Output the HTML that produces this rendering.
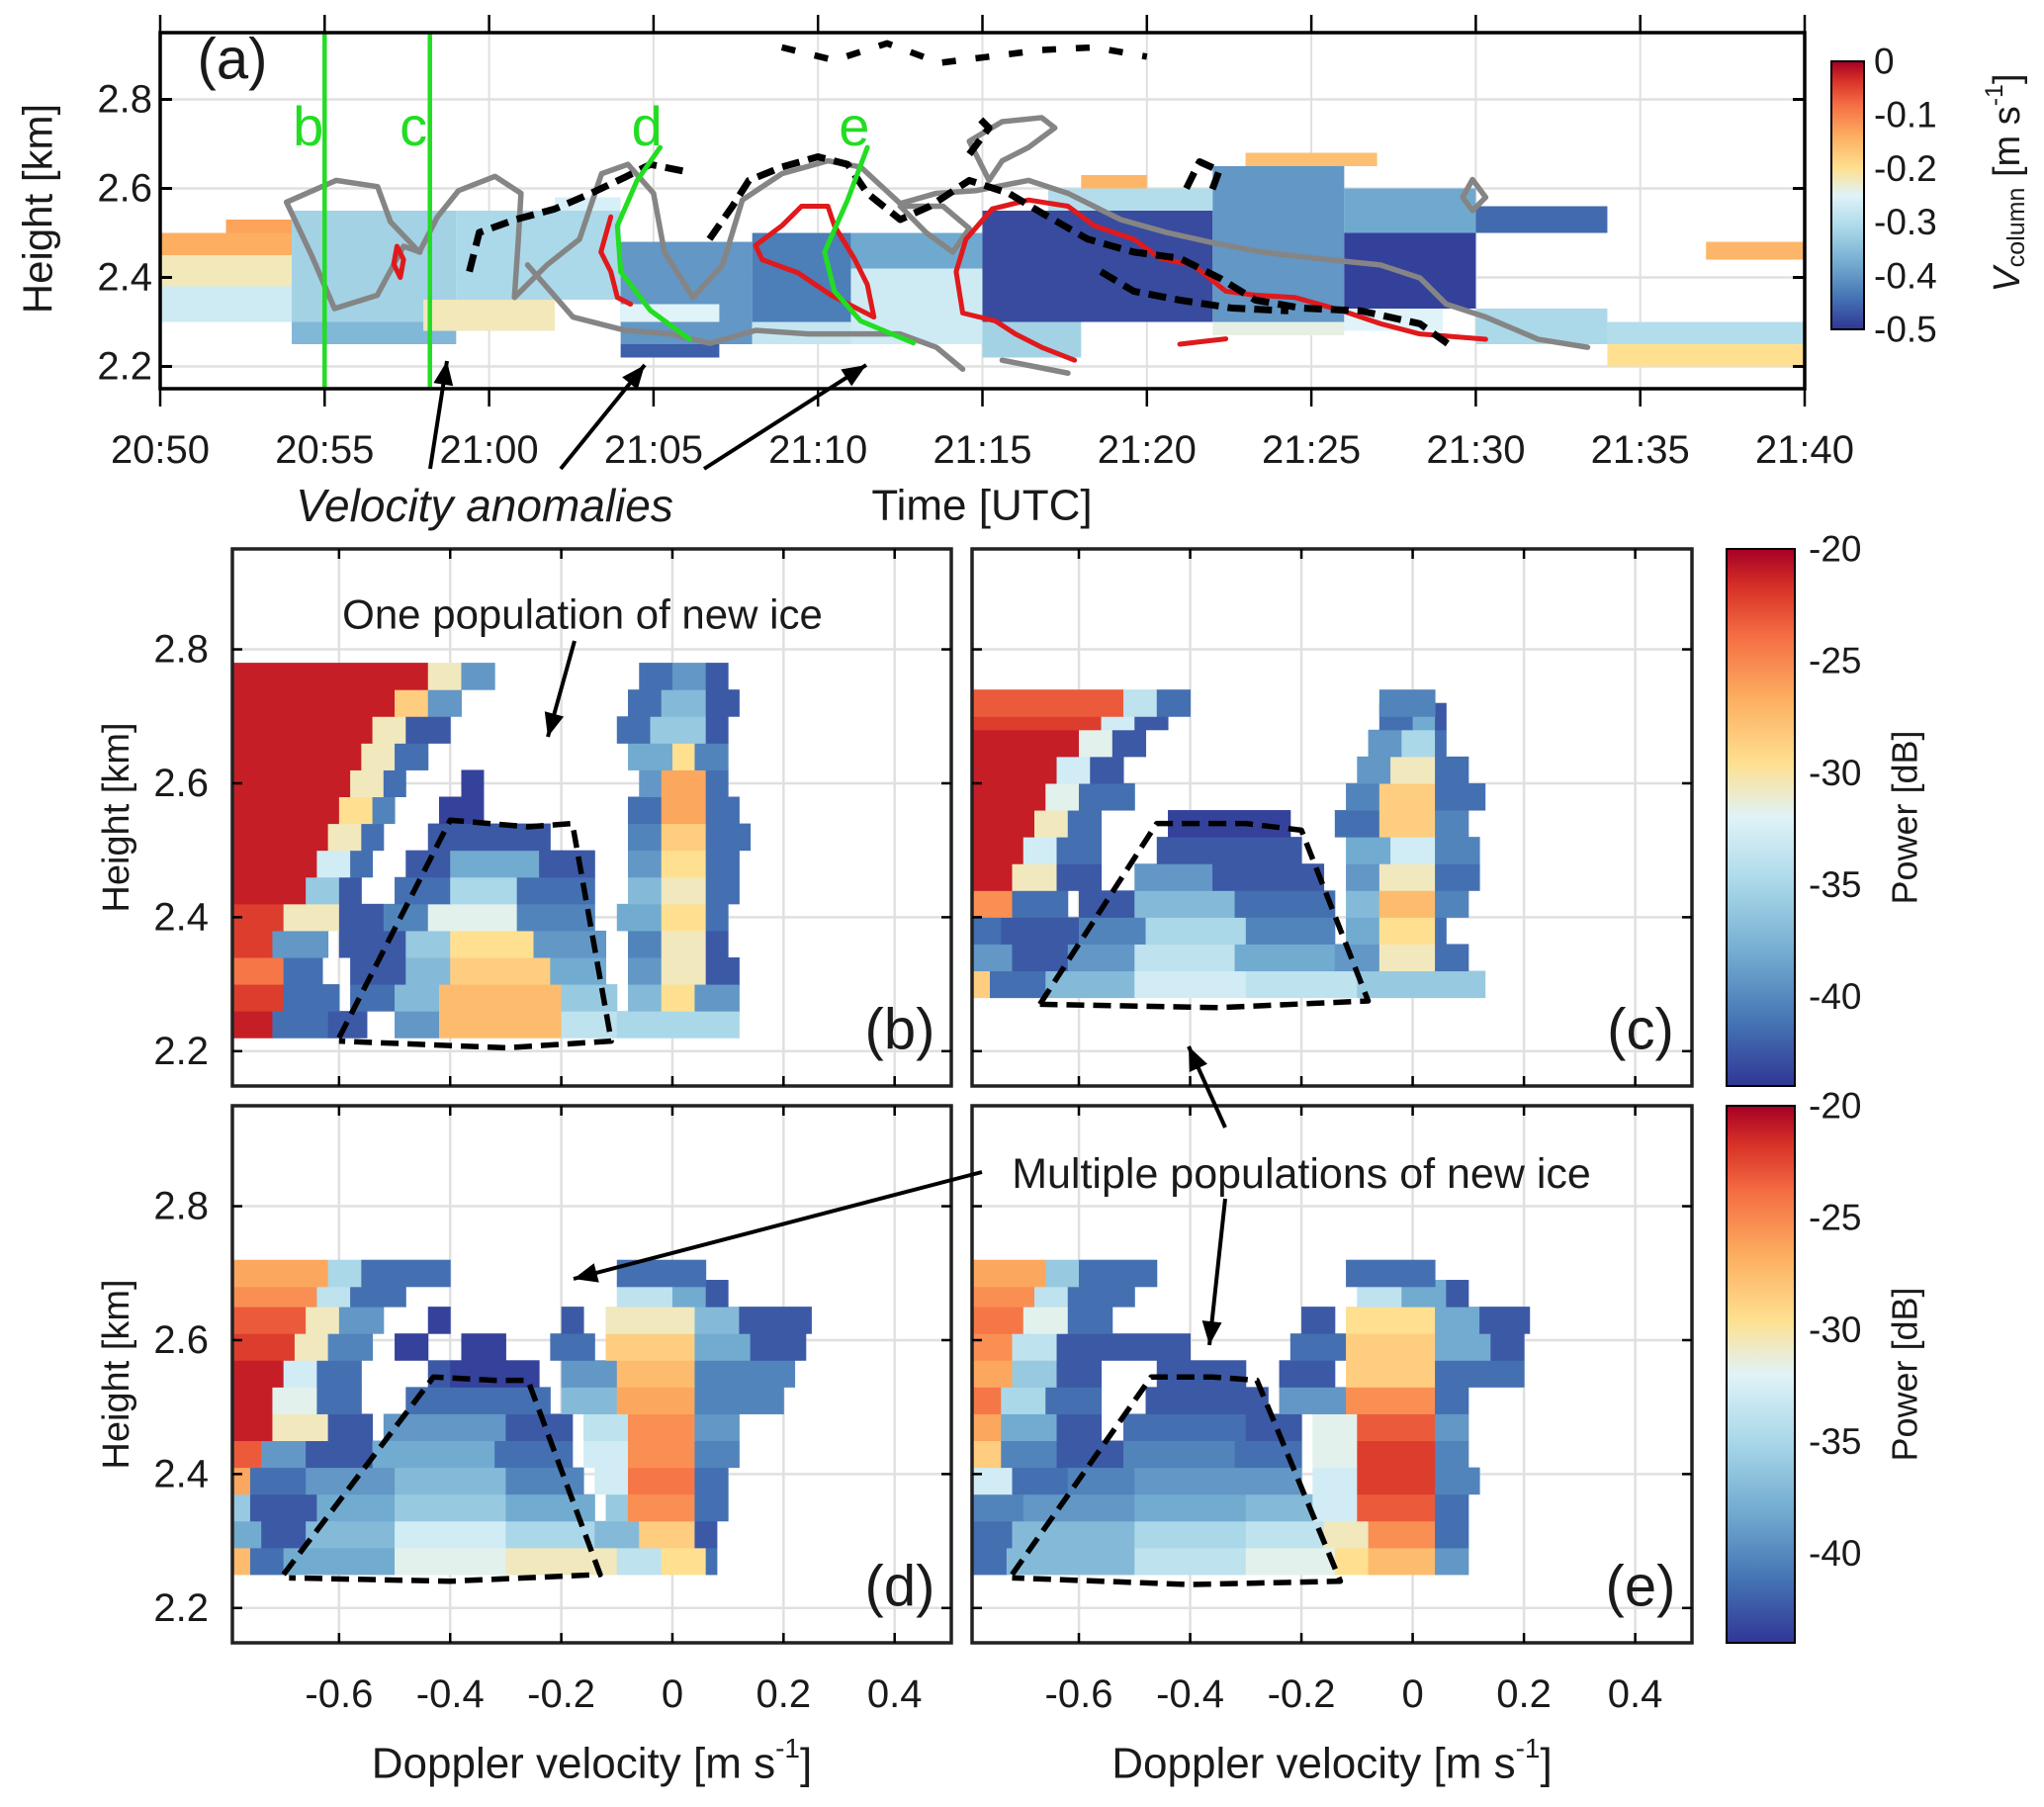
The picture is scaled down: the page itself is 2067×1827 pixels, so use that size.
<!DOCTYPE html>
<html><head><meta charset="utf-8"><style>
html,body{margin:0;padding:0;background:#fff}
svg{display:block;font-family:"Liberation Sans",sans-serif}
</style></head><body>
<svg id="fig" width="2067" height="1827" viewBox="0 0 2067 1827" xmlns="http://www.w3.org/2000/svg">
<defs>
<linearGradient id="cmapV" x1="0" y1="1" x2="0" y2="0">
<stop offset="0" stop-color="#313695"/><stop offset="0.12" stop-color="#4575b4"/><stop offset="0.25" stop-color="#74add1"/><stop offset="0.38" stop-color="#abd9e9"/><stop offset="0.5" stop-color="#e0f3f8"/><stop offset="0.6" stop-color="#fee090"/><stop offset="0.72" stop-color="#fdae61"/><stop offset="0.84" stop-color="#f46d43"/><stop offset="0.93" stop-color="#d73027"/><stop offset="1" stop-color="#a50026"/>
</linearGradient>
</defs>
<g id="root"></g>
</svg>
<script>
// ---------- Panel (a) data ----------
const aTicksX = ["20:50","20:55","21:00","21:05","21:10","21:15","21:20","21:25","21:30","21:35","21:40"];
const aTicksY = [2.2,2.4,2.6,2.8];
const vcTicks = [0,-0.1,-0.2,-0.3,-0.4,-0.5];
// [t0,t1 (min after 20:50), h0,h1 (km), Vcolumn m/s]
const aBlocks = [
[0,4,2.45,2.5,-0.14],[0,4,2.38,2.45,-0.22],[0,4,2.3,2.38,-0.27],[2,4,2.5,2.53,-0.13],
[4,9,2.3,2.55,-0.32],[4,9,2.25,2.3,-0.36],[8,12,2.28,2.35,-0.22],[9,14,2.35,2.55,-0.31],[12,14,2.55,2.58,-0.26],
[14,18,2.25,2.48,-0.40],[14,17,2.22,2.25,-0.46],[14,17,2.3,2.34,-0.25],
[18,21,2.3,2.5,-0.43],[18,21,2.25,2.3,-0.28],[21,25,2.25,2.42,-0.27],[21,25,2.42,2.5,-0.38],
[25,32,2.3,2.55,-0.48],[25,28,2.22,2.3,-0.32],[27,32,2.55,2.6,-0.3],[28,30,2.6,2.63,-0.15],
[32,36,2.3,2.65,-0.4],[33,37,2.65,2.68,-0.16],[32,36,2.27,2.3,-0.24],
[36,40,2.33,2.5,-0.49],[36,40,2.5,2.6,-0.38],[36,39,2.28,2.33,-0.25],
[40,44,2.25,2.33,-0.31],[40,44,2.5,2.56,-0.45],
[44,50,2.25,2.3,-0.3],[44,50,2.2,2.25,-0.2],[47,50,2.44,2.48,-0.15]];
const grayMain = [[3.84,2.569],[5.35,2.618],[6.61,2.604],[7.0,2.525],[7.88,2.457],[8.43,2.536],[9.07,2.595],[10.18,2.627],[10.97,2.589],[10.89,2.486],[10.77,2.355],[11.76,2.428],[12.75,2.486],[13.42,2.633],[14.22,2.654],[15.0,2.589],[15.33,2.457],[16.2,2.355],[17.1,2.428],[17.7,2.574],[18.9,2.633],[20.3,2.662],[21.3,2.648],[22.5,2.566],[23.6,2.589],[24.8,2.595],[26.4,2.618],[27.6,2.589],[29.2,2.53],[30.6,2.501],[32.0,2.478],[33.5,2.457],[35.1,2.443],[37.1,2.428],[38.3,2.399],[39.1,2.34],[40.3,2.311],[41.9,2.261],[43.4,2.243]];
const grayLeft = [[3.84,2.569],[4.6,2.45],[5.3,2.33],[6.6,2.36],[7.4,2.47],[7.9,2.457]];
const grayLow = [[11.17,2.428],[12.55,2.311],[14.14,2.281],[15.52,2.273],[16.71,2.252],[18.1,2.281],[19.7,2.273],[20.9,2.273],[22.5,2.273],[23.6,2.243],[24.4,2.194]];
const grayLow2 = [[25.6,2.214],[27.6,2.185]];
const grayLoopTop = [[24.6,2.706],[25.6,2.75],[26.8,2.759],[27.2,2.736],[26.4,2.692],[25.6,2.662],[25.2,2.618],[24.6,2.706]];
const grayLoopMid = [[22.5,2.56],[23.3,2.5],[24.1,2.457],[24.6,2.51],[23.8,2.56],[22.5,2.56]];
const grayRight = [[39.6,2.58],[39.9,2.62],[40.3,2.58],[39.9,2.55],[39.6,2.58]];
const redA = [[7.2,2.47],[7.4,2.44],[7.3,2.40],[7.1,2.43],[7.2,2.47]];
const redB = [[13.7,2.536],[13.4,2.457],[13.7,2.413],[13.9,2.355],[14.3,2.34]];
const redC = [[18.1,2.472],[18.9,2.516],[19.5,2.56],[20.3,2.56],[20.5,2.516],[21.1,2.443],[21.5,2.384],[21.7,2.311],[21.3,2.326],[20.4,2.36],[19.4,2.41],[18.3,2.44],[18.1,2.472]];
const redD = [[27.8,2.214],[26.8,2.243],[26.0,2.273],[25.4,2.302],[24.4,2.32],[24.2,2.413],[24.5,2.486],[25.3,2.554],[26.4,2.574],[27.6,2.56],[28.4,2.516],[29.6,2.486],[30.4,2.443],[31.4,2.428],[32.4,2.369],[33.3,2.36],[34.5,2.355],[35.9,2.326],[37.1,2.296],[38.3,2.273],[40.3,2.261]];
const redE = [[31.0,2.25],[31.8,2.257],[32.4,2.262]];
const blackA = [[9.4,2.413],[9.7,2.501],[10.8,2.53],[12.0,2.554],[13.1,2.589],[14.1,2.624],[14.9,2.654],[15.9,2.639]];
const blackB = [[16.7,2.486],[17.4,2.56],[17.9,2.618],[18.9,2.648],[20.0,2.671],[20.9,2.654],[21.5,2.589],[22.5,2.53],[23.4,2.56],[24.6,2.618],[25.8,2.589],[26.8,2.545],[28.2,2.486],[29.6,2.457],[31.0,2.443],[32.2,2.399],[33.3,2.349],[34.7,2.331],[36.5,2.325],[38.3,2.296],[39.3,2.243]];
const blackC = [[28.6,2.413],[29.6,2.369],[31.0,2.349],[32.6,2.331],[34.3,2.325]];
const blackTop = [[18.9,2.917],[20.5,2.888],[22.1,2.926],[23.7,2.882],[25.2,2.896],[26.8,2.911],[28.4,2.917],[30.0,2.896]];
const blackLoop = [[24.6,2.677],[25.2,2.736],[24.8,2.765]];
const blackLoop2 = [[31.2,2.6],[31.6,2.66],[32.2,2.64],[31.9,2.58]];
const greenD = [[15.2,2.692],[14.5,2.618],[13.9,2.516],[14.0,2.413],[14.9,2.326],[16.1,2.261]];
const greenE = [[21.5,2.692],[20.9,2.574],[20.2,2.457],[20.5,2.369],[21.3,2.302],[22.9,2.253]];
const greenVert = [5.0, 8.2];
const greenLabels = [["b",4.5],["c",7.7],["d",14.8],["e",21.1]];

// ---------- Spectrum panels data: rows [h0, [[v0,v1,dB],...]] row height 0.04 ----------
const velTicks = [-0.6,-0.4,-0.2,0,0.2,0.4];
const hTicks = [2.2,2.4,2.6,2.8];
const dbTicks = [-20,-25,-30,-35,-40];
const specB = [
[2.22,[[-0.79,-0.72,-21],[-0.72,-0.62,-40],[-0.62,-0.55,-41],[-0.5,-0.42,-38],[-0.42,-0.2,-27],[-0.2,-0.1,-33],[-0.1,0.12,-34]]],
[2.26,[[-0.79,-0.7,-22],[-0.7,-0.6,-40],[-0.58,-0.5,-40],[-0.5,-0.42,-36],[-0.42,-0.2,-27],[-0.2,-0.1,-35],[-0.08,-0.02,-36],[-0.02,0.04,-29],[0.04,0.12,-38]]],
[2.30,[[-0.79,-0.7,-24],[-0.7,-0.63,-40],[-0.58,-0.48,-41],[-0.48,-0.4,-36],[-0.4,-0.22,-28],[-0.22,-0.12,-37],[-0.08,-0.02,-38],[-0.02,0.06,-30],[0.06,0.12,-41]]],
[2.34,[[-0.79,-0.72,-22],[-0.72,-0.62,-38],[-0.6,-0.48,-41],[-0.48,-0.4,-35],[-0.4,-0.25,-29],[-0.25,-0.12,-38],[-0.08,-0.02,-39],[-0.02,0.06,-30],[0.06,0.1,-41]]],
[2.38,[[-0.79,-0.7,-22],[-0.7,-0.6,-30],[-0.6,-0.52,-41],[-0.52,-0.44,-39],[-0.44,-0.28,-31],[-0.28,-0.14,-39],[-0.1,-0.02,-37],[-0.02,0.06,-29],[0.06,0.1,-40]]],
[2.42,[[-0.79,-0.66,-21],[-0.66,-0.6,-35],[-0.6,-0.56,-41],[-0.5,-0.4,-40],[-0.4,-0.28,-34],[-0.28,-0.14,-40],[-0.08,-0.02,-36],[-0.02,0.06,-30],[0.06,0.12,-40]]],
[2.46,[[-0.79,-0.64,-21],[-0.64,-0.58,-32],[-0.58,-0.54,-40],[-0.48,-0.4,-41],[-0.4,-0.24,-37],[-0.24,-0.14,-41],[-0.08,-0.02,-38],[-0.02,0.06,-29],[0.06,0.12,-40]]],
[2.50,[[-0.79,-0.62,-21],[-0.62,-0.56,-30],[-0.56,-0.52,-40],[-0.44,-0.22,-41],[-0.08,-0.02,-39],[-0.02,0.06,-28],[0.06,0.14,-40]]],
[2.54,[[-0.79,-0.6,-21],[-0.6,-0.54,-29],[-0.54,-0.5,-39],[-0.42,-0.34,-42],[-0.08,-0.02,-40],[-0.02,0.06,-26],[0.06,0.12,-40]]],
[2.58,[[-0.79,-0.58,-21],[-0.58,-0.52,-30],[-0.52,-0.48,-40],[-0.38,-0.34,-42],[-0.06,-0.02,-38],[-0.02,0.06,-26],[0.06,0.1,-40]]],
[2.62,[[-0.79,-0.56,-21],[-0.56,-0.5,-30],[-0.5,-0.44,-40],[-0.08,0.0,-37],[0.0,0.04,-29],[0.04,0.1,-39]]],
[2.66,[[-0.79,-0.54,-21],[-0.54,-0.48,-30],[-0.48,-0.4,-41],[-0.1,-0.04,-40],[-0.04,0.06,-35],[0.06,0.1,-41]]],
[2.70,[[-0.79,-0.5,-21],[-0.5,-0.44,-28],[-0.44,-0.38,-38],[-0.08,-0.02,-40],[-0.02,0.06,-36],[0.06,0.12,-41]]],
[2.74,[[-0.79,-0.44,-21],[-0.44,-0.38,-30],[-0.38,-0.32,-38],[-0.06,0.0,-40],[0.0,0.06,-38],[0.06,0.1,-41]]]];
const specC = [
[2.28,[[-0.79,-0.76,-28],[-0.76,-0.66,-40],[-0.66,-0.5,-36],[-0.5,-0.3,-32],[-0.3,-0.1,-33],[-0.1,0.13,-35]]],
[2.32,[[-0.79,-0.72,-38],[-0.72,-0.62,-41],[-0.62,-0.5,-38],[-0.5,-0.32,-33],[-0.32,-0.14,-37],[-0.14,-0.06,-38],[-0.06,0.04,-30],[0.04,0.1,-40]]],
[2.36,[[-0.79,-0.74,-40],[-0.74,-0.6,-41],[-0.6,-0.48,-39],[-0.48,-0.3,-34],[-0.3,-0.14,-39],[-0.12,-0.06,-37],[-0.06,0.04,-29],[0.04,0.06,-40]]],
[2.40,[[-0.79,-0.72,-25],[-0.72,-0.62,-40],[-0.6,-0.5,-41],[-0.5,-0.32,-36],[-0.32,-0.14,-40],[-0.12,-0.06,-36],[-0.06,0.04,-27],[0.04,0.1,-39]]],
[2.44,[[-0.79,-0.72,-21],[-0.72,-0.64,-30],[-0.64,-0.56,-41],[-0.5,-0.36,-38],[-0.36,-0.16,-41],[-0.12,-0.06,-38],[-0.06,0.04,-30],[0.04,0.12,-40]]],
[2.48,[[-0.79,-0.7,-21],[-0.7,-0.64,-32],[-0.64,-0.56,-40],[-0.46,-0.2,-41],[-0.12,-0.04,-37],[-0.04,0.04,-32],[0.04,0.12,-39]]],
[2.52,[[-0.79,-0.68,-21],[-0.68,-0.62,-30],[-0.62,-0.56,-40],[-0.44,-0.22,-42],[-0.14,-0.06,-40],[-0.06,0.04,-28],[0.04,0.1,-39]]],
[2.56,[[-0.79,-0.66,-21],[-0.66,-0.6,-31],[-0.6,-0.5,-40],[-0.12,-0.06,-39],[-0.06,0.04,-28],[0.04,0.13,-40]]],
[2.60,[[-0.79,-0.64,-21],[-0.64,-0.58,-32],[-0.58,-0.52,-41],[-0.1,-0.04,-38],[-0.04,0.04,-30],[0.04,0.1,-40]]],
[2.64,[[-0.79,-0.6,-21],[-0.6,-0.54,-31],[-0.54,-0.48,-41],[-0.08,-0.02,-38],[-0.02,0.04,-34],[0.04,0.06,-40]]],
[2.68,[[-0.79,-0.56,-22],[-0.56,-0.5,-32],[-0.5,-0.44,-41],[-0.06,0.0,-40],[0.0,0.04,-37],[0.04,0.06,-41]]],
[2.70,[[-0.79,-0.52,-23],[-0.52,-0.46,-33],[-0.46,-0.4,-40],[-0.06,0.04,-39]]]];
const specD = [
[2.25,[[-0.79,-0.76,-27],[-0.76,-0.7,-40],[-0.7,-0.5,-37],[-0.5,-0.3,-31],[-0.3,-0.1,-30],[-0.1,-0.02,-33],[-0.02,0.06,-29],[0.06,0.08,-40]]],
[2.29,[[-0.79,-0.74,-37],[-0.74,-0.66,-41],[-0.66,-0.5,-36],[-0.5,-0.3,-32],[-0.3,-0.14,-34],[-0.14,-0.06,-36],[-0.06,0.04,-28],[0.04,0.08,-41]]],
[2.33,[[-0.79,-0.76,-35],[-0.76,-0.64,-41],[-0.64,-0.5,-37],[-0.5,-0.3,-35],[-0.3,-0.14,-37],[-0.12,-0.08,-35],[-0.08,0.04,-25],[0.04,0.1,-40]]],
[2.37,[[-0.79,-0.76,-26],[-0.76,-0.66,-40],[-0.66,-0.5,-38],[-0.5,-0.3,-36],[-0.3,-0.16,-39],[-0.14,-0.08,-32],[-0.08,0.04,-24],[0.04,0.1,-40]]],
[2.41,[[-0.79,-0.74,-23],[-0.74,-0.66,-38],[-0.66,-0.54,-41],[-0.54,-0.32,-37],[-0.32,-0.18,-40],[-0.16,-0.08,-32],[-0.08,0.04,-25],[0.04,0.12,-39]]],
[2.45,[[-0.79,-0.72,-21],[-0.72,-0.62,-30],[-0.62,-0.54,-41],[-0.52,-0.3,-38],[-0.3,-0.18,-41],[-0.16,-0.08,-33],[-0.08,0.04,-25],[0.04,0.12,-38]]],
[2.49,[[-0.79,-0.72,-21],[-0.72,-0.64,-31],[-0.64,-0.56,-40],[-0.48,-0.22,-40],[-0.2,-0.1,-36],[-0.1,0.04,-26],[0.04,0.2,-39]]],
[2.53,[[-0.79,-0.7,-21],[-0.7,-0.64,-32],[-0.64,-0.56,-40],[-0.44,-0.4,-41],[-0.4,-0.24,-42],[-0.2,-0.1,-38],[-0.1,0.04,-27],[0.04,0.22,-39]]],
[2.57,[[-0.79,-0.68,-22],[-0.68,-0.62,-30],[-0.62,-0.54,-39],[-0.5,-0.44,-42],[-0.38,-0.3,-42],[-0.22,-0.14,-40],[-0.12,0.04,-28],[0.04,0.14,-37],[0.14,0.24,-41]]],
[2.61,[[-0.79,-0.66,-23],[-0.66,-0.6,-30],[-0.6,-0.52,-38],[-0.44,-0.4,-42],[-0.2,-0.16,-41],[-0.12,0.04,-30],[0.04,0.12,-36],[0.12,0.25,-41]]],
[2.65,[[-0.79,-0.64,-25],[-0.64,-0.58,-33],[-0.58,-0.48,-40],[-0.1,0.0,-33],[0.0,0.06,-37],[0.06,0.1,-41]]],
[2.68,[[-0.79,-0.62,-26],[-0.62,-0.56,-34],[-0.56,-0.4,-40],[-0.1,0.06,-40]]]];
const specE = [
[2.25,[[-0.79,-0.73,-40],[-0.73,-0.5,-36],[-0.5,-0.3,-33],[-0.3,-0.14,-31],[-0.14,-0.08,-29],[-0.08,0.04,-27],[0.04,0.1,-38]]],
[2.29,[[-0.79,-0.72,-40],[-0.72,-0.5,-36],[-0.5,-0.3,-34],[-0.3,-0.16,-33],[-0.16,-0.08,-30],[-0.08,0.04,-25],[0.04,0.1,-40]]],
[2.33,[[-0.79,-0.7,-39],[-0.7,-0.5,-38],[-0.5,-0.3,-37],[-0.3,-0.18,-36],[-0.18,-0.1,-32],[-0.1,0.04,-23],[0.04,0.1,-40]]],
[2.37,[[-0.79,-0.72,-32],[-0.72,-0.62,-40],[-0.62,-0.5,-39],[-0.5,-0.3,-38],[-0.3,-0.2,-38],[-0.18,-0.1,-32],[-0.1,0.04,-22],[0.04,0.12,-39]]],
[2.41,[[-0.79,-0.74,-28],[-0.74,-0.64,-39],[-0.64,-0.52,-41],[-0.52,-0.32,-39],[-0.32,-0.2,-40],[-0.18,-0.1,-31],[-0.1,0.04,-22],[0.04,0.1,-39]]],
[2.45,[[-0.79,-0.74,-26],[-0.74,-0.64,-37],[-0.64,-0.56,-41],[-0.52,-0.3,-40],[-0.3,-0.2,-41],[-0.18,-0.1,-31],[-0.1,0.04,-23],[0.04,0.1,-38]]],
[2.49,[[-0.79,-0.74,-24],[-0.74,-0.66,-34],[-0.66,-0.56,-40],[-0.48,-0.26,-41],[-0.24,-0.12,-38],[-0.12,0.04,-25],[0.04,0.1,-40]]],
[2.53,[[-0.79,-0.72,-26],[-0.72,-0.64,-35],[-0.64,-0.56,-41],[-0.46,-0.3,-41],[-0.24,-0.14,-41],[-0.12,0.04,-28],[0.04,0.2,-40]]],
[2.57,[[-0.79,-0.72,-25],[-0.72,-0.64,-33],[-0.64,-0.5,-41],[-0.5,-0.4,-41],[-0.22,-0.12,-40],[-0.12,0.04,-28],[0.04,0.14,-37],[0.14,0.2,-41]]],
[2.61,[[-0.79,-0.7,-24],[-0.7,-0.62,-31],[-0.62,-0.54,-40],[-0.2,-0.14,-41],[-0.12,0.04,-29],[0.04,0.12,-37],[0.12,0.21,-41]]],
[2.65,[[-0.79,-0.68,-25],[-0.68,-0.62,-33],[-0.62,-0.5,-40],[-0.1,-0.02,-33],[-0.02,0.06,-37],[0.06,0.1,-41]]],
[2.68,[[-0.79,-0.66,-26],[-0.66,-0.6,-35],[-0.6,-0.46,-40],[-0.12,0.04,-40]]]];
const dashB = [[-0.6,2.22],[-0.4,2.545],[-0.26,2.535],[-0.18,2.54],[-0.11,2.215],[-0.3,2.205],[-0.6,2.215]];
const dashC = [[-0.67,2.27],[-0.46,2.54],[-0.3,2.54],[-0.2,2.53],[-0.08,2.275],[-0.35,2.265],[-0.67,2.27]];
const dashD = [[-0.7,2.25],[-0.43,2.545],[-0.32,2.54],[-0.26,2.54],[-0.13,2.25],[-0.4,2.24],[-0.69,2.245]];
const dashE = [[-0.72,2.25],[-0.47,2.545],[-0.36,2.545],[-0.28,2.54],[-0.13,2.24],[-0.4,2.235],[-0.72,2.245]];

// ---------- helpers ----------
const NS="http://www.w3.org/2000/svg";
const root=document.getElementById('root');
function mk(tag,attrs,parent){const e=document.createElementNS(NS,tag);for(const k in attrs)e.setAttribute(k,attrs[k]);(parent||root).appendChild(e);return e;}
const cStops=[[0,[49,54,149]],[0.12,[69,117,180]],[0.25,[116,173,209]],[0.38,[171,217,233]],[0.5,[224,243,248]],[0.6,[254,224,144]],[0.72,[253,174,97]],[0.84,[244,109,67]],[0.93,[215,48,39]],[1,[165,0,38]]];
function cmap(f){f=Math.max(0,Math.min(1,f));for(let i=1;i<cStops.length;i++){if(f<=cStops[i][0]){const a=cStops[i-1],b=cStops[i];const t=(f-a[0])/(b[0]-a[0]);return 'rgb('+a[1].map((v,j)=>Math.round(v+(b[1][j]-v)*t)).join(',')+')';}}return 'rgb(165,0,38)';}
function txt(x,y,s,size,attrs){const t=mk('text',Object.assign({x:x,y:y,'font-size':size,fill:'#1a1a1a','text-anchor':'middle','dominant-baseline':'central'},attrs||{}));t.textContent=s;return t;}
function arrow(x1,y1,x2,y2,name){const g=mk('g',{});
 mk('line',{x1:x1,y1:y1,x2:x2,y2:y2,stroke:'#000','stroke-width':4},g);
 const a=Math.atan2(y2-y1,x2-x1),L=24,W=10;
 const p=[[x2,y2],[x2-L*Math.cos(a)+W*Math.sin(a),y2-L*Math.sin(a)-W*Math.cos(a)],[x2-L*Math.cos(a)-W*Math.sin(a),y2-L*Math.sin(a)+W*Math.cos(a)]];
 mk('polygon',{points:p.map(q=>q.join(',')).join(' '),fill:'#000'},g);}
const TICK=40;

// ---------- Panel (a) ----------
const A={l:162,r:1825,t:33,b:393,t0:0,t1:50,h0:2.15,h1:2.95};
const ax=t=>A.l+(t-A.t0)/(A.t1-A.t0)*(A.r-A.l);
const ay=h=>A.b-(h-A.h0)/(A.h1-A.h0)*(A.b-A.t);
const gA=mk('g',{});
aTicksX.forEach((s,i)=>{const x=ax(i*5);mk('line',{x1:x,y1:A.t,x2:x,y2:A.b,stroke:'#e0e0e0','stroke-width':2},gA);});
aTicksY.forEach(h=>{mk('line',{x1:A.l,y1:ay(h),x2:A.r,y2:ay(h),stroke:'#e0e0e0','stroke-width':2.5},gA);});
const gHeat=mk('g',{},gA);
aBlocks.forEach(b=>{const r=mk('rect',{x:ax(b[0]),y:ay(b[3]),width:ax(b[1])-ax(b[0]),height:ay(b[2])-ay(b[3]),fill:cmap((b[4]+0.5)/0.5)},gHeat);
 });
function pl(arr,stroke,w,dash,name,parent){const p=mk('polyline',{points:arr.map(q=>ax(q[0])+','+ay(q[1])).join(' '),fill:'none',stroke:stroke,'stroke-width':w,'stroke-linejoin':'round','stroke-linecap':dash?'butt':'round'},parent||gA);if(dash)p.setAttribute('stroke-dasharray',dash);return p;}
[grayMain,grayLeft,grayLow,grayLow2,grayLoopTop,grayLoopMid,grayRight].forEach(a=>pl(a,'#858585',5.5,null,'gray-contour'));
[redA,redB,redC,redD,redE].forEach(a=>pl(a,'#e0191c',5,null,'red-contour'));
[blackA,blackB,blackC,blackLoop,blackLoop2].forEach(a=>pl(a,'#000',7,'18 9','black-dashed-contour'));
pl(blackTop,'#000',6.5,'14 20','black-dashed-fragments');
greenVert.forEach(t=>{const l=mk('line',{x1:ax(t),y1:A.t,x2:ax(t),y2:A.b,stroke:'#22dd22','stroke-width':4.5},gA);});
pl(greenD,'#22dd22',5,null,'green-marker-d');pl(greenE,'#22dd22',5,null,'green-marker-e');
greenLabels.forEach(g=>{const t=txt(ax(g[1]),ay(2.74),g[0],56,{fill:'#22dd22'});});
mk('rect',{x:A.l,y:A.t,width:A.r-A.l,height:A.b-A.t,fill:'none',stroke:'#000','stroke-width':3.5},gA);
aTicksX.forEach((s,i)=>{const x=ax(i*5);mk('line',{x1:x,y1:A.t,x2:x,y2:A.t-18,stroke:'#000','stroke-width':2.5},gA);mk('line',{x1:x,y1:A.b,x2:x,y2:A.b+18,stroke:'#000','stroke-width':2.5},gA);
 const t=txt(x,455,s,TICK);});
aTicksY.forEach(h=>{mk('line',{x1:A.l,y1:ay(h),x2:A.l+12,y2:ay(h),stroke:'#000','stroke-width':3},gA);mk('line',{x1:A.r,y1:ay(h),x2:A.r-12,y2:ay(h),stroke:'#000','stroke-width':3},gA);
 const t=txt(A.l-8,ay(h),h.toFixed(1),TICK,{'text-anchor':'end'});});
let tt=txt(235,60,'(a)',58);
tt=txt(38,211,'Height [km]',42,{transform:'rotate(-90 38 211)'});
tt=txt(993,511,'Time [UTC]',44);
tt=txt(490,511,'Velocity anomalies',46,{'font-style':'italic'});
arrow(435,474,452,365,'anomaly-arrow-1');arrow(567,474,652,369,'anomaly-arrow-2');arrow(712,474,876,369,'anomaly-arrow-3');
// colorbar a
const CA={l:1852,r:1885,t:62,b:333};
let cb=mk('rect',{x:CA.l,y:CA.t,width:CA.r-CA.l,height:CA.b-CA.t,fill:'url(#cmapV)',stroke:'#000','stroke-width':2});
vcTicks.forEach(v=>{const y=CA.b-(v+0.5)/0.5*(CA.b-CA.t);const t=txt(1895,y,v===0?'0':v.toFixed(1),37,{'text-anchor':'start'});});
tt=mk('text',{x:2030,y:185,'font-size':38,fill:'#1a1a1a','text-anchor':'middle','dominant-baseline':'central',transform:'rotate(-90 2030 185)'});
tt.innerHTML='<tspan font-style="italic">V</tspan><tspan font-size="25" dy="9">column</tspan><tspan dy="-9"> [m s</tspan><tspan font-size="25" dy="-13">-1</tspan><tspan dy="13">]</tspan>';


// ---------- Spectrum panels ----------
const panels=[
 {n:'b',l:235,r:962,t:555,b:1098,data:specB,dash:dashB},
 {n:'c',l:983,r:1711,t:555,b:1098,data:specC,dash:dashC},
 {n:'d',l:235,r:962,t:1118,b:1661,data:specD,dash:dashD},
 {n:'e',l:983,r:1711,t:1118,b:1661,data:specE,dash:dashE}];
const V0=-0.792,V1=0.502,H0=2.148,H1=2.95,DB0=-44,DB1=-20,DBC0=-42.5;
panels.forEach(P=>{
 const sx=v=>P.l+(v-V0)/(V1-V0)*(P.r-P.l);
 const sy=h=>P.b-(h-H0)/(H1-H0)*(P.b-P.t);
 const g=mk('g',{});
 velTicks.forEach(v=>mk('line',{x1:sx(v),y1:P.t,x2:sx(v),y2:P.b,stroke:'#e0e0e0','stroke-width':2.5},g));
 hTicks.forEach(h=>mk('line',{x1:P.l,y1:sy(h),x2:P.r,y2:sy(h),stroke:'#e0e0e0','stroke-width':2.5},g));
 const gh=mk('g',{},g);
 P.data.forEach(row=>{row[1].forEach(s=>{const r=mk('rect',{x:sx(s[0]),y:sy(row[0]+0.04),width:sx(s[1])-sx(s[0])+0.5,height:sy(row[0])-sy(row[0]+0.04)+0.5,fill:cmap((s[2]-DBC0)/(DB1-DBC0))},gh);
  });});
 const d=mk('polyline',{points:P.dash.map(q=>sx(q[0])+','+sy(q[1])).join(' '),fill:'none',stroke:'#000','stroke-width':5.5,'stroke-dasharray':'18 9','stroke-linejoin':'round'},g);
 
 mk('rect',{x:P.l,y:P.t,width:P.r-P.l,height:P.b-P.t,fill:'none',stroke:'#222','stroke-width':3.5},g);
 velTicks.forEach(v=>{mk('line',{x1:sx(v),y1:P.t,x2:sx(v),y2:P.t+10,stroke:'#000','stroke-width':2.5},g);mk('line',{x1:sx(v),y1:P.b,x2:sx(v),y2:P.b-10,stroke:'#000','stroke-width':2.5},g);});
 hTicks.forEach(h=>{mk('line',{x1:P.l,y1:sy(h),x2:P.l+10,y2:sy(h),stroke:'#000','stroke-width':2.5},g);mk('line',{x1:P.r,y1:sy(h),x2:P.r-10,y2:sy(h),stroke:'#000','stroke-width':2.5},g);});
 if(P.n==='b'||P.n==='d'){hTicks.forEach(h=>{const t=txt(P.l-24,sy(h),h.toFixed(1),TICK,{'text-anchor':'end'});});
  const cy=(P.t+P.b)/2;const t=txt(118,cy,'Height [km]',38,{transform:'rotate(-90 118 '+cy+')'});}
 if(P.n==='d'||P.n==='e'){velTicks.forEach(v=>{const t=txt(sx(v),1713,v===0?'0':v.toFixed(1),TICK);});
  const cx=(P.l+P.r)/2;const t=mk('text',{x:cx,y:1783,'font-size':44,fill:'#1a1a1a','text-anchor':'middle','dominant-baseline':'central'},g);
  t.innerHTML='Doppler velocity [m s<tspan font-size="28" dy="-16">-1</tspan><tspan dy="16">]</tspan>';}
 const lb=txt(P.r-52,P.b-57,'('+P.n+')',58);
});
// power colorbars
[[555,1098],[1118,1661]].forEach((c,i)=>{const g=mk('g',{});
 mk('rect',{x:1746,y:c[0],width:69,height:c[1]-c[0],fill:'url(#cmapV)',stroke:'#000','stroke-width':2},g);
 dbTicks.forEach(v=>{const y=c[1]-(v-DB0)/(DB1-DB0)*(c[1]-c[0]);const t=txt(1829,y,String(v),37,{'text-anchor':'start'});});
 const cy=(c[0]+c[1])/2;const t=txt(1926,cy,'Power [dB]',36,{transform:'rotate(-90 1926 '+cy+')'});});
// annotations
tt=txt(589,621,'One population of new ice',42);
arrow(581,648,554,745,'one-population-arrow');
tt=txt(1316,1187,'Multiple populations of new ice',43);
arrow(993,1185,580,1293,'multi-arrow-d');arrow(1239,1140,1202,1058,'multi-arrow-c');arrow(1239,1212,1223,1360,'multi-arrow-e');
</script>
</body></html>
